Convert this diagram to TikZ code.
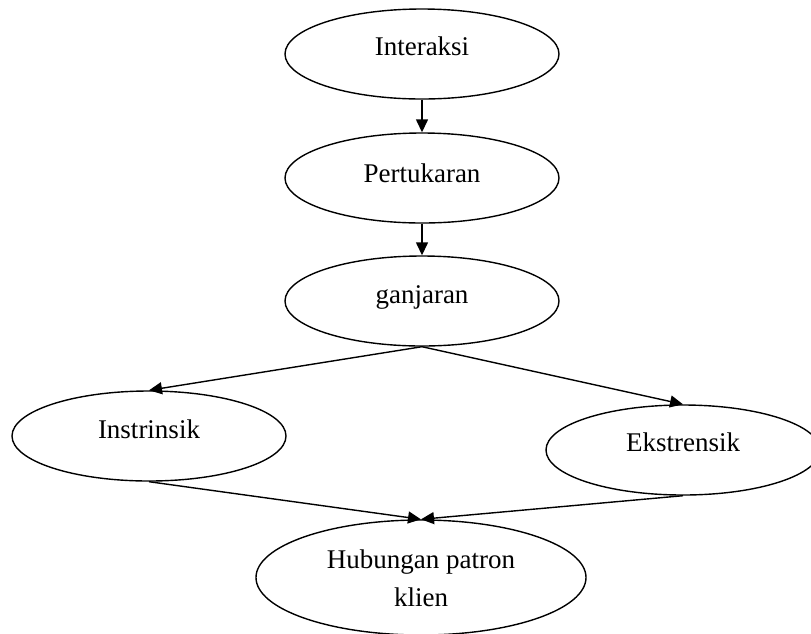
\documentclass[tikz,border=0pt]{standalone}
\usepackage{fontspec}
\setmainfont{Liberation Serif}
\usetikzlibrary{arrows.meta,shapes.geometric}
\begin{document}
\begin{tikzpicture}[x=1pt,y=-1pt,
  oval/.style={draw,ellipse,line width=1.4pt,minimum width=274pt,minimum height=90pt,inner sep=0pt},
  lbl/.style={anchor=base,inner sep=0pt,font=\fontsize{27}{32}\selectfont},
  conn/.style={line width=1.4pt,-{Triangle[length=13pt,width=12pt]}}]
\useasboundingbox (0,0) rectangle (811,633);
\clip (0,0) rectangle (811,633);
% shapes
\node[oval] (inter) at (422,54) {};
\node[oval] (pert) at (422,178) {};
\node[oval] (ganj) at (422,301) {};
\node[oval] (instr) at (149,436) {};
\node[oval] (ekst) at (683,450) {};
\node[oval,minimum width=330pt,minimum height=115pt] (hub) at (421,577.5) {};
% labels
\node[lbl] (tinter) at (422,55) {Interaksi};
\node[lbl] (tpert) at (422,182) {Pertukaran};
\node[lbl] (tganj) at (422,303) {ganjaran};
\node[lbl] (tinstr) at (149,438) {Instrinsik};
\node[lbl] (tekst) at (683,451) {Ekstrensik};
\node[lbl] (thub1) at (421,568) {Hubungan patron};
\node[lbl] (thub2) at (421,606) {klien};
% connectors
\draw[conn] (inter.south) -- (pert.north);
\draw[conn] (pert.south) -- (ganj.north);
\draw[conn] (ganj.south) -- (instr.north);
\draw[conn] (ganj.south) -- (ekst.north);
\draw[conn] (instr.south) -- (hub.north);
\draw[conn] (ekst.south) -- (hub.north);
\end{tikzpicture}
\end{document}
